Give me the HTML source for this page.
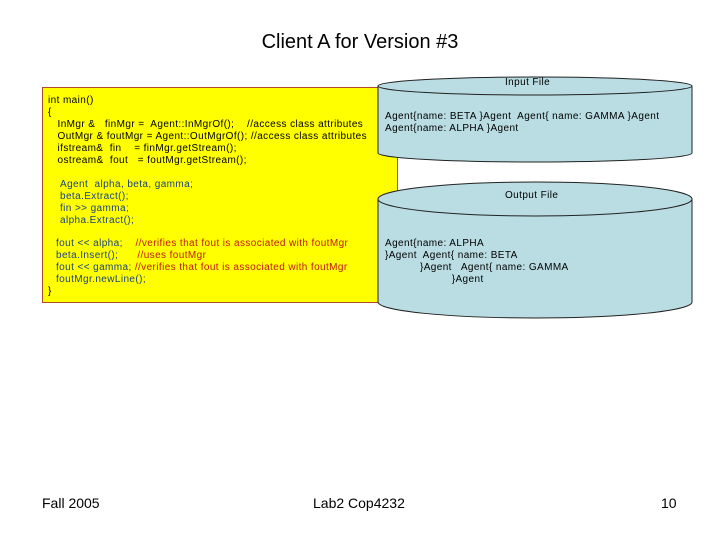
<!DOCTYPE html>
<html><head><style>
body{margin:0;width:720px;height:540px;background:#fff;position:relative;font-family:"Liberation Sans",sans-serif;overflow:hidden}
.t{position:absolute;white-space:pre;font-size:10px;line-height:12px;color:#000;letter-spacing:0.4px}
.b{color:#1a3f8a}.r{color:#c01818}
</style></head><body>
<div class="t" style="left:0;width:720px;text-align:center;top:30px;font-size:20px;line-height:24px;letter-spacing:0">Client A for Version #3</div>
<div style="position:absolute;left:42px;top:87px;width:354px;height:214px;background:#ffff00;border:1px solid #b04a2a"></div>
<svg width="720" height="540" style="position:absolute;left:0;top:0">
<g fill="#b9dde3" stroke="#222" stroke-width="1">
<path d="M378,86 L378,153 A157,9 0 0 0 692,153 L692,86 Z"/>
<ellipse cx="535" cy="86" rx="157" ry="9"/>
<path d="M378,199 L378,302 A157,16 0 0 0 692,302 L692,199 Z"/>
<ellipse cx="535" cy="199" rx="157" ry="17"/>
</g></svg>
<div class="t" style="left:48px;top:95px">int main()
{
   InMgr &amp;   finMgr =  Agent::InMgrOf();    //access class attributes
   OutMgr &amp; foutMgr = Agent::OutMgrOf(); //access class attributes
   ifstream&amp;  fin    = finMgr.getStream();
   ostream&amp;  fout   = foutMgr.getStream();</div>
<div class="t b" style="left:60px;top:179px">Agent  alpha, beta, gamma;
beta.Extract();
fin &gt;&gt; gamma;
alpha.Extract();</div>
<div class="t b" style="left:56px;top:238px">fout &lt;&lt; alpha;    <span class="r">//verifies that fout is associated with foutMgr</span>
beta.Insert();      <span class="r">//uses foutMgr</span>
fout &lt;&lt; gamma; <span class="r">//verifies that fout is associated with foutMgr</span>
foutMgr.newLine();</div>
<div class="t" style="left:48px;top:286px">}</div>
<div class="t" style="left:505px;top:77px">Input File</div>
<div class="t" style="left:385px;top:111px">Agent{name: BETA }Agent  Agent{ name: GAMMA }Agent
Agent{name: ALPHA }Agent</div>
<div class="t" style="left:505px;top:190px">Output File</div>
<div class="t" style="left:385px;top:238px">Agent{name: ALPHA
}Agent  Agent{ name: BETA
           }Agent   Agent{ name: GAMMA
                     }Agent</div>
<div class="t" style="left:42px;top:495px;font-size:14px;line-height:16px;letter-spacing:0">Fall 2005</div>
<div class="t" style="left:313px;top:495px;font-size:14px;line-height:16px;letter-spacing:0">Lab2 Cop4232</div>
<div class="t" style="left:661px;top:495px;font-size:14px;line-height:16px;letter-spacing:0">10</div>
</body></html>
